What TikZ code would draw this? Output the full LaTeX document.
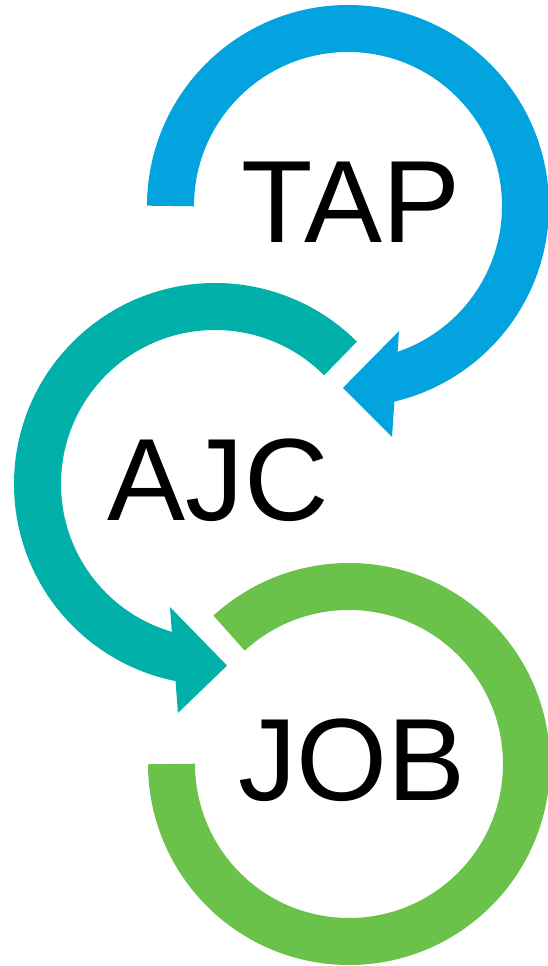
\documentclass[tikz,border=0pt]{standalone}
\usepackage{fontspec}
\setmainfont{Liberation Sans}
\usetikzlibrary{calc}
\definecolor{tapblue}{HTML}{03A3DF}
\definecolor{ajcteal}{HTML}{00B0A9}
\definecolor{jobgreen}{HTML}{6BC24B}
\begin{document}
\begin{tikzpicture}[x=1pt,y=1pt,
  ring/.style={line width=47pt},
  ringtext/.style={inner sep=0pt,font=\fontsize{117}{117}\selectfont}]
\useasboundingbox (0,0) rectangle (547,966);
\coordinate (tapc) at (348,760);
\coordinate (ajcc) at (215,482);
\coordinate (jobc) at (349,202);
% TAP ring with arrow head
\draw [ring,tapblue] ($(tapc)+(180:177.5)$) arc (180:-78:177.5);
\fill [tapblue] ($(tapc)+(-91.6:182)$) -- ($(tapc)+(-67.8:135)$) -- ($(tapc)+(-79.2:235)$) -- cycle;
\node [ringtext] (tap) at ($(tapc)+(3,4)$) {TAP};
% AJC ring with arrow head
\draw [ring,ajcteal] ($(ajcc)+(45:177.5)$) arc (45:260:177.5);
\fill [ajcteal] ($(ajcc)+(-86.2:182)$) -- ($(ajcc)+(-110.1:131)$) -- ($(ajcc)+(-99.2:232)$) -- cycle;
\node [ringtext] (ajc) at ($(ajcc)+(3,4)$) {AJC};
% JOB ring
\draw [ring,jobgreen] ($(jobc)+(132.5:177.5)$) arc (132.5:-180:177.5);
\node [ringtext] (job) at ($(jobc)+(3,4)$) {JOB};
\end{tikzpicture}
\end{document}
